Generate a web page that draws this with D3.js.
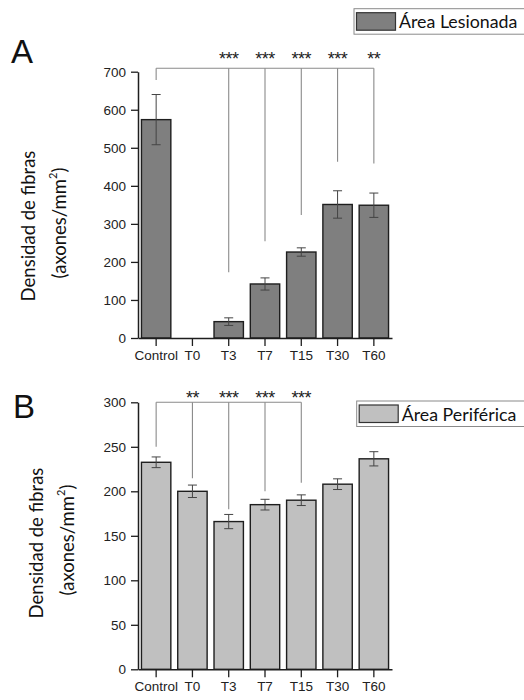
<!DOCTYPE html>
<html>
<head>
<meta charset="utf-8">
<script src="https://cdn.jsdelivr.net/npm/d3@7/dist/d3.min.js"></script>
<style>
  html, body { margin: 0; padding: 0; background: #fff; }
  svg { display: block; }
</style>
</head>
<body>
<svg id="chart" width="524" height="700"></svg>
<script>
// Groups (time points after injury)
const categories = ["Control", "T0", "T3", "T7", "T15", "T30", "T60"];

// Fibre density (axons/mm²), mean and error
const lesionMeans  = [574, 0, 43, 142, 226, 351, 349];
const lesionErrors = [66, 0, 10, 16, 11, 36, 32];
const periphMeans  = [232.6, 200, 166, 185, 190, 208, 236.5];
const periphErrors = [6, 7, 8, 6, 6, 6, 8];

// Axis ticks
const lesionTicks = [0, 100, 200, 300, 400, 500, 600, 700];
const periphTicks = [0, 50, 100, 150, 200, 250, 300];

// Significance brackets vs Control: bracket height, drop ends, star labels
const lesionBracketTop = 709;
const lesionControlDrop = 678;
const lesionSig = [
  { cat: "T3",  end: 173, label: "***" },
  { cat: "T7",  end: 254, label: "***" },
  { cat: "T15", end: 323, label: "***" },
  { cat: "T30", end: 463, label: "***" },
  { cat: "T60", end: 459, label: "**" }
];
const periphBracketTop = 300;
const periphControlDrop = 250;
const periphSig = [
  { cat: "T0",  end: 214.6, label: "**" },
  { cat: "T3",  end: 179.8, label: "***" },
  { cat: "T7",  end: 200,   label: "***" },
  { cat: "T15", end: 209.5, label: "***" }
];

const svg = d3.select("#chart");
const sansTick = "'Liberation Sans', Arial, sans-serif";
const sansTitle = "Lato, 'Open Sans', sans-serif";

function drawPanel(opt) {
  const g = svg.append("g");
  const x = d3.scaleBand()
    .domain(categories)
    .range([138, 392])
    .paddingInner(0.19)
    .paddingOuter(0.095);
  const y = d3.scaleLinear().domain(opt.domain).range([opt.y0, opt.y1]);

  // bars
  g.selectAll("rect.bar")
    .data(categories.map((c, i) => ({ c, v: opt.means[i], e: opt.errors[i] })))
    .join("rect")
    .attr("class", "bar")
    .attr("x", d => x(d.c))
    .attr("width", x.bandwidth())
    .attr("y", d => y(d.v))
    .attr("height", d => y(0) - y(d.v))
    .attr("fill", opt.fill)
    .attr("stroke", "#1e1e1e")
    .attr("stroke-width", 1.4)
    .attr("display", d => d.v > 0 ? null : "none");

  // error bars
  const eb = g.selectAll("g.err")
    .data(categories.map((c, i) => ({ c, v: opt.means[i], e: opt.errors[i] })).filter(d => d.e > 0))
    .join("g")
    .attr("class", "err")
    .attr("stroke", "#444")
    .attr("stroke-width", 1);
  eb.append("line")
    .attr("x1", d => x(d.c) + x.bandwidth() / 2)
    .attr("x2", d => x(d.c) + x.bandwidth() / 2)
    .attr("y1", d => y(d.v + d.e))
    .attr("y2", d => y(d.v - d.e));
  [1, -1].forEach(s => {
    eb.append("line")
      .attr("x1", d => x(d.c) + x.bandwidth() / 2 - 4.5)
      .attr("x2", d => x(d.c) + x.bandwidth() / 2 + 4.5)
      .attr("y1", d => y(d.v + s * d.e))
      .attr("y2", d => y(d.v + s * d.e));
  });

  // axes
  const yAxis = g.append("g")
    .attr("transform", "translate(138,0)")
    .call(d3.axisLeft(y).tickValues(opt.ticks).tickSize(7).tickPadding(5).tickSizeOuter(0));
  const xAxis = g.append("g")
    .attr("transform", `translate(0,${y(0)})`)
    .call(d3.axisBottom(x).tickSize(8).tickPadding(4).tickSizeOuter(0));
  [yAxis, xAxis].forEach(a => {
    a.select(".domain").attr("stroke", "#1e1e1e").attr("stroke-width", 1.5);
    a.selectAll(".tick line").attr("stroke", "#1e1e1e").attr("stroke-width", 1.3);
    a.selectAll(".tick text")
      .attr("fill", "#222")
      .style("font-family", sansTick)
      .style("font-size", "13.5px");
  });

  // significance brackets
  const cx = c => x(c) + x.bandwidth() / 2;
  const br = g.append("g").attr("stroke", "#8a8a8a").attr("stroke-width", 1.1).attr("fill", "none");
  const last = opt.sig[opt.sig.length - 1].cat;
  br.append("line")
    .attr("x1", cx("Control")).attr("x2", cx(last))
    .attr("y1", y(opt.bracketTop)).attr("y2", y(opt.bracketTop));
  br.append("line")
    .attr("x1", cx("Control")).attr("x2", cx("Control"))
    .attr("y1", y(opt.bracketTop)).attr("y2", y(opt.controlDrop));
  br.selectAll("line.sig")
    .data(opt.sig)
    .join("line")
    .attr("class", "sig")
    .attr("x1", d => cx(d.cat)).attr("x2", d => cx(d.cat))
    .attr("y1", y(opt.bracketTop)).attr("y2", d => y(d.end));
  g.selectAll("text.star")
    .data(opt.sig)
    .join("text")
    .attr("class", "star")
    .attr("x", d => cx(d.cat))
    .attr("y", y(opt.bracketTop) - opt.starGap)
    .attr("text-anchor", "middle")
    .style("font-family", sansTick)
    .style("font-size", "18px")
    .style("letter-spacing", "-0.5px")
    .attr("fill", "#222")
    .text(d => d.label);

  // y-axis title (two lines, rotated)
  g.append("text")
    .attr("transform", `translate(${opt.titleX},${opt.titleY}) rotate(-90)`)
    .attr("text-anchor", "middle")
    .style("font-family", sansTitle)
    .style("font-size", "18.5px")
    .attr("fill", "#111")
    .text("Densidad de fibras");
  const t2 = g.append("text")
    .attr("transform", `translate(${opt.titleX + 31},${opt.titleY - 3}) rotate(-90)`)
    .attr("text-anchor", "middle")
    .style("font-family", sansTitle)
    .style("font-size", "18.5px")
    .attr("fill", "#111");
  t2.append("tspan").text("(axones/mm");
  t2.append("tspan").attr("dy", -9).style("font-size", "11px").text("2");
  t2.append("tspan").attr("dy", 9).text(")");

  // panel letter
  g.append("text")
    .attr("x", opt.letterX).attr("y", opt.letterY)
    .style("font-family", sansTick)
    .style("font-size", "33px")
    .attr("fill", "#111")
    .text(opt.letter);

  // legend
  const lg = g.append("g").attr("transform", `translate(${opt.legX},${opt.legY})`);
  lg.append("rect")
    .attr("x", 0).attr("y", 0).attr("width", 200).attr("height", 25.5)
    .attr("fill", "#fff").attr("stroke", "#8a8a8a").attr("stroke-width", 1);
  lg.append("rect")
    .attr("x", 2.5).attr("y", 4).attr("width", 39).attr("height", 17.5)
    .attr("fill", opt.fill).attr("stroke", "#333").attr("stroke-width", 1.2);
  lg.append("text")
    .attr("x", 45).attr("y", 19.5)
    .style("font-family", sansTitle)
    .style("font-size", "17.8px")
    .attr("fill", "#111")
    .text(opt.legendText);
}

drawPanel({
  domain: [0, 700], y0: 338, y1: 71.7,
  ticks: lesionTicks,
  means: lesionMeans, errors: lesionErrors,
  fill: "#7f7f7f",
  bracketTop: lesionBracketTop, controlDrop: lesionControlDrop, sig: lesionSig, starGap: 2.8,
  titleX: 35, titleY: 226,
  letter: "A", letterX: 11, letterY: 63,
  legX: 354, legY: 8.7, legendText: "Área Lesionada"
});

drawPanel({
  domain: [0, 300], y0: 669.3, y1: 402.3,
  ticks: periphTicks,
  means: periphMeans, errors: periphErrors,
  fill: "#c0c0c0",
  bracketTop: periphBracketTop, controlDrop: periphControlDrop, sig: periphSig, starGap: -1.2,
  titleX: 43, titleY: 543,
  letter: "B", letterX: 13, letterY: 418,
  legX: 356.7, legY: 401, legendText: "Área Periférica"
});
</script>
</body>
</html>
